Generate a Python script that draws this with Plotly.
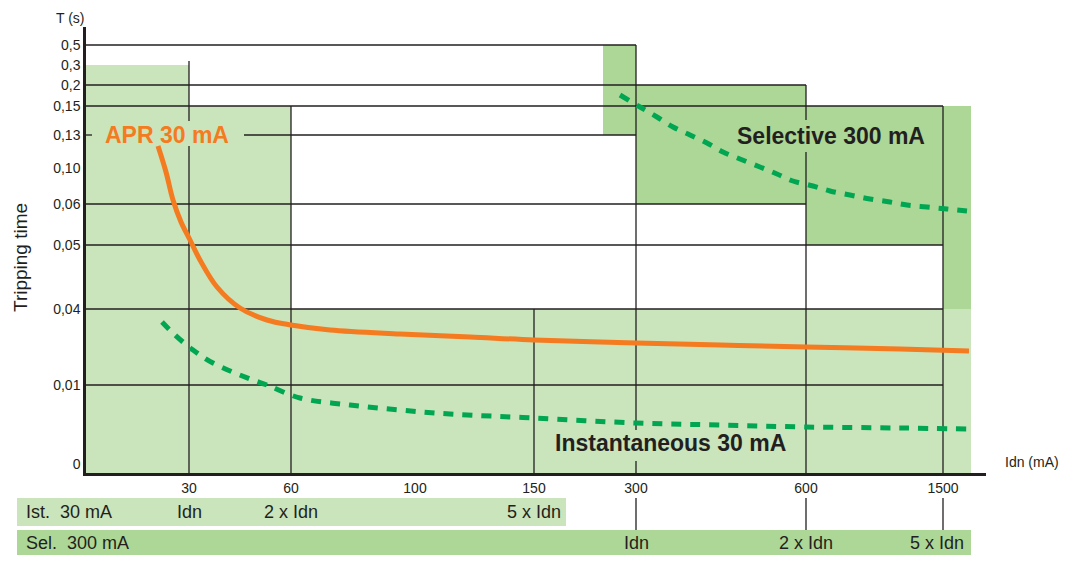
import plotly.graph_objects as go

# schematic scales: tick labels and where each one sits along its axis
IDN_LABELS = ["30", "60", "100", "150", "300", "600", "1500"]
IDN_POS = [103, 205, 329, 448, 550, 720, 857]
T_LABELS = ["0", "0,01", "0,04", "0,05", "0,06", "0,10", "0,13", "0,15", "0,2", "0,3", "0,5"]
T_POS = [9, 88, 164, 228, 269, 305, 338, 367, 388, 408, 428]

# APR 30 mA tripping curve
APR_X = [72, 80, 87, 95, 104, 114, 131, 154, 181, 205, 244, 314, 384, 448, 550, 634, 720, 814, 883]
APR_Y = [327, 301, 273, 251, 233, 213, 186, 165, 153, 148, 143, 139, 136, 133, 130, 128, 126, 124, 122]

# Instantaneous 30 mA curve
INST_X = [76, 89, 107, 127, 164, 181, 214, 264, 314, 364, 448, 550, 634, 720, 814, 881]
INST_Y = [151, 138, 123, 110, 94, 88, 75, 68, 63, 59, 55, 50, 48, 46, 45, 44]

# Selective 300 mA curve
SEL_X = [534, 554, 571, 587, 604, 621, 637, 654, 674, 691, 707, 727, 744, 764, 784, 804, 821, 841, 861, 881]
SEL_Y = [378, 366, 356, 346, 338, 330, 321, 314, 306, 299, 292, 287, 282, 278, 274, 271, 268, 266, 264, 262]

# rows under the axis: multiples of the rated current
IST_ROW = "Ist.\u00a0 30 mA"
SEL_ROW = "Sel.\u00a0 300 mA"
MULT_LABELS = ["Idn", "2 x Idn", "5 x Idn"]
IST_AT = ["30", "60", "150"]
SEL_AT = ["300", "600", "1500"]

# page body keeps its default 8px margin, so the figure is a bit smaller
OFF = 8
W, H = 1078 - OFF, 569 - OFF
DARK = "#231F20"
LIGHT = "#CAE4BC"
MEDIUM = "#ADD797"
ORANGE = "#F47B20"
GREEN = "#00A651"
FONT = "Liberation Sans, Arial, sans-serif"

xp = dict(zip(IDN_LABELS, IDN_POS))
yp = dict(zip(T_LABELS, T_POS))
BAND_END = 885


def px(x, y):
    # window pixel -> paper fraction
    return (x - OFF) / W, 1 - (y - OFF) / H


fig = go.Figure()

fig.add_trace(go.Scatter(x=APR_X, y=APR_Y, mode="lines", hoverinfo="skip",
                         line=dict(color=ORANGE, width=5, shape="spline")))
fig.add_trace(go.Scatter(x=INST_X, y=INST_Y, mode="lines", hoverinfo="skip",
                         line=dict(color=GREEN, width=5, shape="spline", dash="10px,9px")))
fig.add_trace(go.Scatter(x=SEL_X, y=SEL_Y, mode="lines", hoverinfo="skip",
                         line=dict(color=GREEN, width=5, shape="spline", dash="10px,9px")))

shapes = []


def zone(x0, x1, y0, y1, color, xref="x", yref="y"):
    shapes.append(dict(type="rect", xref=xref, yref=yref, x0=x0, x1=x1, y0=y0, y1=y1,
                       fillcolor=color, line=dict(width=0), layer="below"))


def seg(x0, x1, y0, y1, xref="x", yref="y"):
    shapes.append(dict(type="line", xref=xref, yref=yref, x0=x0, x1=x1, y0=y0, y1=y1,
                       line=dict(color=DARK, width=1.3), layer="below"))


# instantaneous 30 mA zones
zone(0, xp["30"], 0, yp["0,3"], LIGHT)
zone(xp["30"], xp["60"], 0, yp["0,15"], LIGHT)
zone(0, BAND_END, 0, yp["0,04"], LIGHT)
# selective 300 mA zones
zone(517, xp["300"], yp["0,13"], yp["0,5"], MEDIUM)
zone(xp["300"], xp["600"], yp["0,06"], yp["0,2"], MEDIUM)
zone(xp["600"], xp["1500"], yp["0,05"], yp["0,15"], MEDIUM)
zone(xp["1500"], BAND_END, yp["0,04"], yp["0,15"], MEDIUM)

# horizontal limits
seg(0, xp["300"], yp["0,5"], yp["0,5"])
seg(0, xp["600"], yp["0,2"], yp["0,2"])
seg(0, xp["1500"], yp["0,15"], yp["0,15"])
seg(0, 6, yp["0,13"], yp["0,13"])
seg(158, xp["300"], yp["0,13"], yp["0,13"])
seg(0, xp["600"], yp["0,06"], yp["0,06"])
for t in ["0,05", "0,04", "0,01"]:
    seg(0, xp["1500"], yp[t], yp[t])

# vertical limits (broken where the labels sit)
seg(xp["30"], xp["30"], 0, 327)
seg(xp["30"], xp["30"], 352, 412)
seg(xp["60"], xp["60"], 0, yp["0,15"])
seg(xp["150"], xp["150"], 0, yp["0,04"])
seg(xp["300"], xp["300"], 0, 12)
seg(xp["300"], xp["300"], 43, yp["0,5"])
seg(xp["600"], xp["600"], 0, 321)
seg(xp["600"], xp["600"], 353, yp["0,2"])
seg(xp["1500"], xp["1500"], 0, yp["0,15"])

# rows below the axis
zone(-69, 480, 43, 71, LIGHT, "x2", "y2")
zone(-69, BAND_END, 14, 39, MEDIUM, "x2", "y2")
for lab in SEL_AT:
    seg(xp[lab], xp[lab], 39, 71, xref="x2", yref="y2")


def note(text, x, y, size, color=DARK, bold=False, **kw):
    kw.setdefault("xanchor", "center")
    kw.setdefault("yanchor", "middle")
    return dict(text=text, x=x, y=y, showarrow=False,
                font=dict(size=size, color=color, weight="bold" if bold else "normal"), **kw)


annotations = [
    note("APR 30 mA", 17, 338, 23, ORANGE, True, xref="x", yref="y", xanchor="left"),
    note("Selective 300 mA", 745, 337, 23, bold=True, xref="x", yref="y"),
    note("Instantaneous 30 mA", 467, 30, 23, bold=True, xref="x", yref="y", xanchor="left"),
    note(IST_ROW, -62, 57, 18, xref="x2", yref="y2", xanchor="left"),
    note(SEL_ROW, -62, 26, 18, xref="x2", yref="y2", xanchor="left"),
]
tx, ty = px(70, 18)
annotations.append(note("T (s)", tx, ty, 14, xref="paper", yref="paper"))
tx, ty = px(1032, 462)
annotations.append(note("Idn (mA)", tx, ty, 14, xref="paper", yref="paper"))
tx, ty = px(21, 258)
annotations.append(note("Tripping time", tx, ty, 19, xref="paper", yref="paper", textangle=-90))

for lab, at in zip(MULT_LABELS, IST_AT):
    annotations.append(note(lab, xp[at], 57, 18, xref="x2", yref="y2"))
for lab, at in zip(MULT_LABELS, SEL_AT):
    annotations.append(note(lab, xp[at], 26, 18, xref="x2", yref="y2",
                            xshift=-6 if at == "1500" else 0))

x0, _ = px(86, 0)
x1, _ = px(986, 0)
x2s, _ = px(17, 0)
_, y_bot = px(0, 473)
_, y_top = px(0, 27)

fig.update_layout(
    width=W, height=H,
    margin=dict(l=0, r=0, t=0, b=0, pad=0),
    paper_bgcolor="white", plot_bgcolor="rgba(0,0,0,0)",
    showlegend=False,
    font=dict(family=FONT, color=DARK),
    xaxis=dict(domain=[x0, x1], range=[0, 900], anchor="y",
               tickvals=IDN_POS, ticktext=IDN_LABELS, ticks="", tickfont=dict(size=14),
               showgrid=False, zeroline=False, showline=True, linewidth=2.5, linecolor=DARK,
               automargin=False, fixedrange=True),
    yaxis=dict(domain=[y_bot, y_top], range=[0, 446], anchor="x",
               tickvals=T_POS, ticktext=T_LABELS, ticks="", tickfont=dict(size=14),
               showgrid=False, zeroline=False, showline=True, linewidth=2.5, linecolor=DARK,
               automargin=False, fixedrange=True),
    xaxis2=dict(domain=[x2s, x1], range=[-69, 900], anchor="y2", visible=False),
    yaxis2=dict(domain=[0, y_bot], range=[0, 96], anchor="x2", visible=False),
    shapes=shapes,
    annotations=annotations,
)

fig.write_html("out.html")
